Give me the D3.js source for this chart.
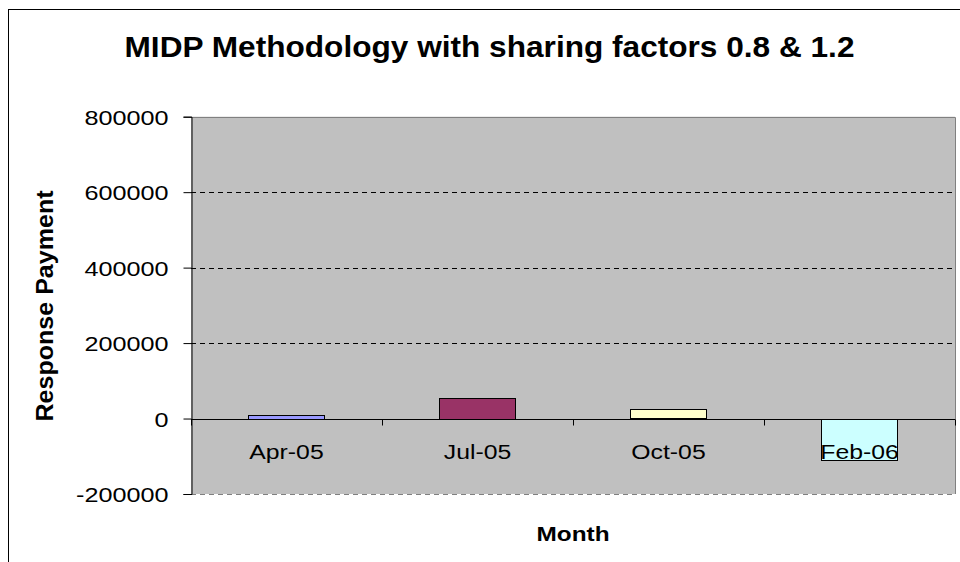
<!DOCTYPE html>
<meta charset="utf-8">
<head>
  <title>MIDP Methodology</title>
</head>
<style>
body { margin: 0; background: #fff; }
text { font-family: "Liberation Sans", Arial, sans-serif; fill: #000; }
.grid line { stroke: #000; stroke-dasharray: 5,4; }
</style>
<body>
  <svg width="960" height="562"></svg>
  <script src="https://cdnjs.cloudflare.com/ajax/libs/d3/7.8.5/d3.min.js"></script>
  <script>
var months = ["Apr-05", "Jul-05", "Oct-05", "Feb-06"];
var payments = [10000, 55000, 24000, -109000];
var colors = ["#9999FF", "#993366", "#FFFFCC", "#CCFFFF"];
var yTicks = [-200000, 0, 200000, 400000, 600000, 800000];

var svg = d3.select("svg");

// outer chart border (only left and top visible)
svg.append("rect")
  .attr("x", 8.5).attr("y", 9.5)
  .attr("width", 1000).attr("height", 600)
  .attr("fill", "none").attr("stroke", "#000");

// note: "top" is taken by window.top, so plot edges get their own names
var plotL = 191, plotR = 955, plotT = 116.7, plotB = 494;

var x = d3.scaleBand().domain(months).range([plotL, plotR])
  .paddingInner(0.6).paddingOuter(0.3);
var xEdge = d3.scaleLinear().domain([0, months.length]).range([plotL, plotR]);
var y = d3.scaleLinear().domain([-200000, 800000]).range([plotB, plotT]);

// plot background
svg.append("rect")
  .attr("x", plotL).attr("y", plotT)
  .attr("width", plotR - plotL).attr("height", plotB - plotT)
  .attr("fill", "#C0C0C0");

// gridlines
svg.append("g").attr("class", "grid")
  .selectAll("line")
  .data(yTicks.filter(function(d) { return d != 0 && d != 800000; }))
  .enter().append("line")
  .attr("x1", plotL).attr("x2", plotR)
  .attr("y1", function(d) { return Math.round(y(d)) + 0.5; })
  .attr("y2", function(d) { return Math.round(y(d)) + 0.5; })
  .style("stroke", function(d) { return d == -200000 ? "#808080" : "#000"; });

// top and right border of plot
svg.append("path")
  .attr("d", "M" + plotL + "," + (Math.round(plotT) + 0.5) + "H" + (plotR + 0.5) + "V" + plotB)
  .attr("fill", "none").attr("stroke", "#808080");

// bars
svg.append("g").selectAll("rect")
  .data(payments)
  .enter().append("rect")
  .attr("x", function(d, i) { return Math.round(x(months[i])) + 0.5; })
  .attr("width", Math.round(x.bandwidth()))
  .attr("y", function(d) { return Math.round(y(Math.max(d, 0))) + 0.5; })
  .attr("height", function(d) { return Math.round(Math.abs(y(d) - y(0))); })
  .attr("fill", function(d, i) { return colors[i]; })
  .attr("stroke", "#000");

// y axis
var yAxis = svg.append("g")
  .attr("transform", "translate(" + (plotL + 0.5) + ",0)")
  .call(d3.axisLeft(y).tickValues(yTicks).tickSize(8).tickPadding(0)
    .tickFormat(d3.format("d")));
yAxis.select(".domain").attr("stroke", "#000");
yAxis.selectAll("text").remove();
yAxis.selectAll(".tick").append("text")
  .attr("transform", "translate(-23,0) scale(1.2,1)")
  .attr("dy", "0.36em")
  .attr("text-anchor", "end")
  .style("font-size", "21px")
  .text(function(d) { return d; });

// category axis on the zero line
var zeroY = Math.round(y(0)) + 0.5;
svg.append("line")
  .attr("x1", plotL).attr("x2", plotR)
  .attr("y1", zeroY).attr("y2", zeroY)
  .attr("stroke", "#000");
svg.append("g").selectAll("line")
  .data(d3.range(months.length + 1))
  .enter().append("line")
  .attr("x1", function(d) { return Math.round(xEdge(d)) + 0.5; })
  .attr("x2", function(d) { return Math.round(xEdge(d)) + 0.5; })
  .attr("y1", zeroY).attr("y2", zeroY + 6)
  .attr("stroke", "#000");
svg.append("g").selectAll("text")
  .data(months)
  .enter().append("text")
  .attr("transform", function(d) {
    return "translate(" + (x(d) + x.bandwidth() / 2) + "," + (zeroY + 39) + ") scale(1.18,1)";
  })
  .attr("text-anchor", "middle")
  .style("font-size", "21px")
  .text(function(d) { return d; });

// title
svg.append("text")
  .attr("transform", "translate(489.5,57) scale(1.09,1)")
  .attr("text-anchor", "middle")
  .style("font-size", "29px").style("font-weight", "bold")
  .text("MIDP Methodology with sharing factors 0.8 & 1.2");

// axis titles
svg.append("text")
  .attr("transform", "translate(573,541) scale(1.16,1)")
  .attr("text-anchor", "middle")
  .style("font-size", "21px").style("font-weight", "bold")
  .text("Month");

svg.append("text")
  .attr("transform", "translate(53,306) rotate(-90) scale(1.09,1)")
  .attr("text-anchor", "middle")
  .style("font-size", "23px").style("font-weight", "bold")
  .text("Response Payment");
  </script>
</body>
</html>
